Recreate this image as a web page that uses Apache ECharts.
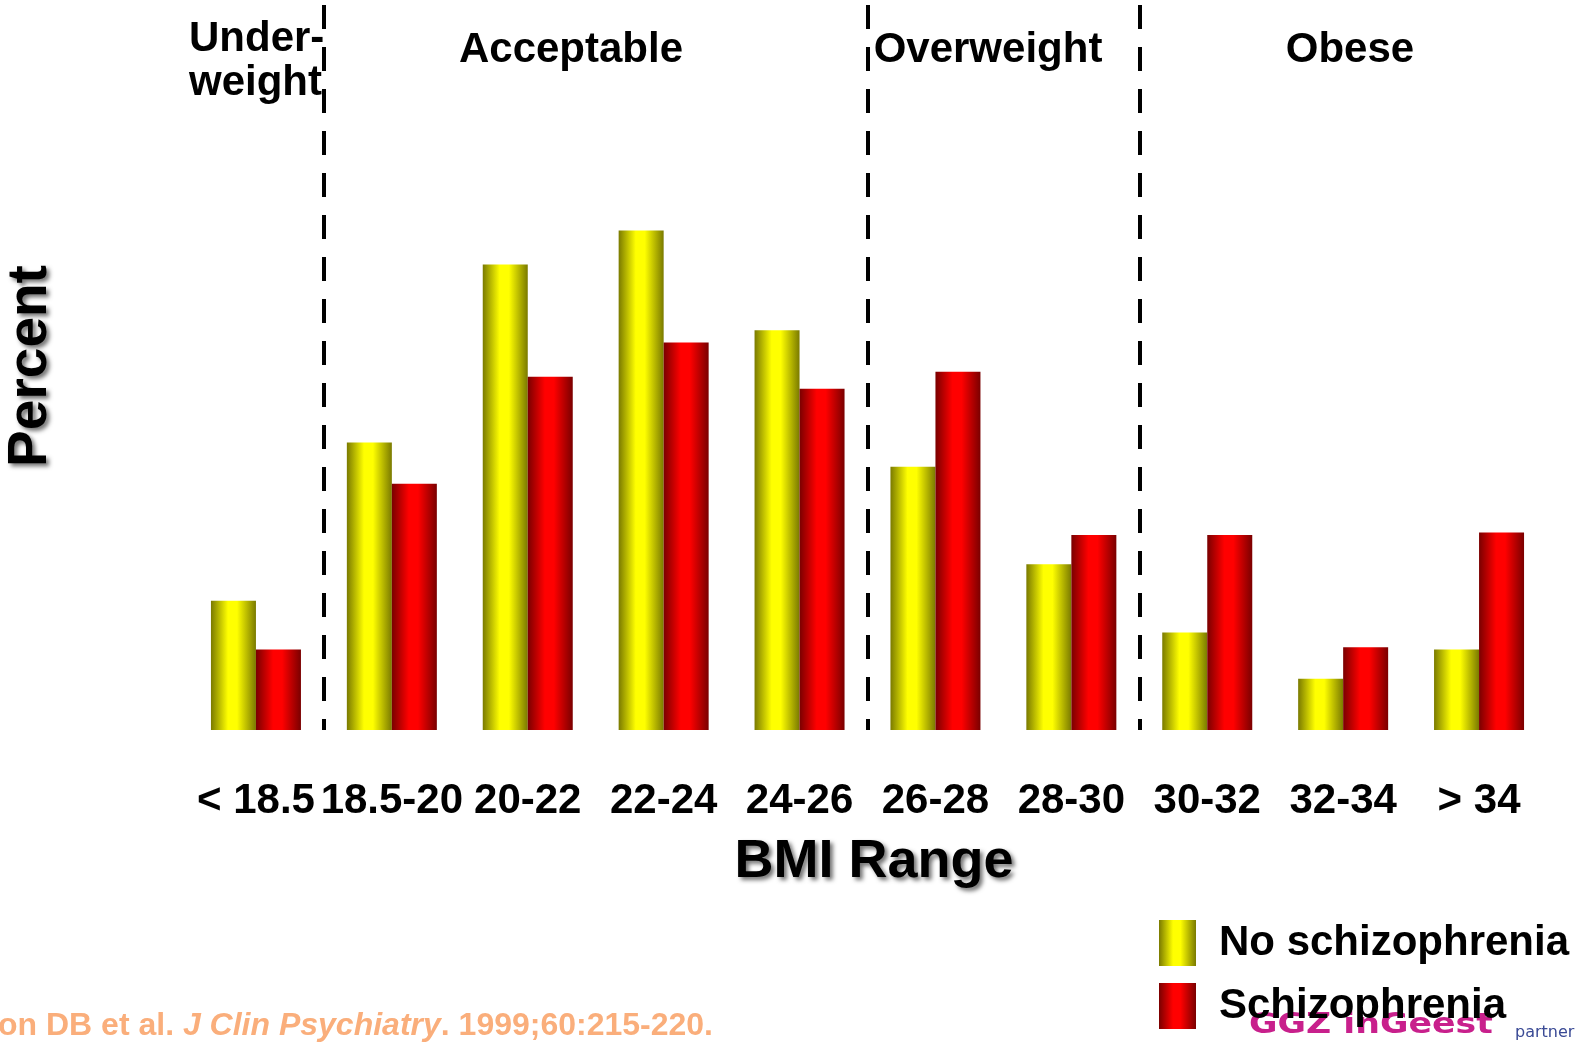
<!DOCTYPE html>
<html>
<head>
<meta charset="utf-8">
<script src="https://cdn.jsdelivr.net/npm/echarts@6/dist/echarts.min.js"></script>
<style>
  html, body { margin: 0; padding: 0; background: #ffffff; }
  #chart { width: 1585px; height: 1044px; }
</style>
</head>
<body>
<div id="chart"></div>
<script>
// BMI ranges (x axis categories)
const bmiRanges = ['< 18.5', '18.5-20', '20-22', '22-24', '24-26', '26-28', '28-30', '30-32', '32-34', '> 34'];
// Percent of each group falling into each BMI range
const noSchizophrenia = [5.3, 11.8, 19.1, 20.5, 16.4, 10.8, 6.8, 4.0, 2.1, 3.3];
const schizophrenia   = [3.3, 10.1, 14.5, 15.9, 14.0, 14.7, 8.0, 8.0, 3.4, 8.1];
const seriesNames = ['No schizophrenia', 'Schizophrenia'];
// Weight classes shown above the plot, separated at these category boundaries
const classNames = ['Under-\nweight', 'Acceptable', 'Overweight', 'Obese'];
const classBoundaries = [1, 5, 7];

const FONT = '"Liberation Sans", Arial, Helvetica, sans-serif';

function cylinder(dark, light) {
  return new echarts.graphic.LinearGradient(0, 0, 1, 0, [
    { offset: 0, color: dark },
    { offset: 0.38, color: light },
    { offset: 0.58, color: light },
    { offset: 1, color: dark }
  ]);
}

const chart = echarts.init(document.getElementById('chart'), null, { renderer: 'canvas' });

const titleShadow = {
  textShadowColor: 'rgba(0,0,0,0.55)',
  textShadowBlur: 4,
  textShadowOffsetX: 3,
  textShadowOffsetY: 3
};

chart.setOption({
  backgroundColor: '#ffffff',
  animation: false,
  grid: { left: 188, right: 38, top: 5, bottom: 314 },
  xAxis: {
    type: 'category',
    data: bmiRanges,
    boundaryGap: true,
    axisLine: { show: false },
    axisTick: { show: false },
    axisLabel: {
      interval: 0,
      margin: 50,
      fontSize: 42,
      fontWeight: 'bold',
      fontFamily: FONT,
      color: '#000000'
    },
    splitLine: {
      show: true,
      showMaxLine: false,
      interval: function (index) { return classBoundaries.indexOf(index) >= 0; },
      lineStyle: { color: '#000000', width: 4, type: [24, 18] }
    }
  },
  yAxis: {
    type: 'value',
    min: 0,
    max: 29.75,
    show: false
  },
  legend: {
    orient: 'vertical',
    left: 1154,
    top: 915,
    itemWidth: 37,
    itemHeight: 46,
    itemGap: 17,
    icon: 'rect',
    z: 10,
    data: seriesNames,
    selectedMode: false,
    textStyle: {
      fontSize: 42,
      fontWeight: 'bold',
      fontFamily: FONT,
      color: '#000000',
      padding: [0, 0, 0, 18]
    }
  },
  series: [
    {
      name: seriesNames[0],
      type: 'bar',
      data: noSchizophrenia,
      barWidth: 45,
      barGap: '0%',
      itemStyle: { color: cylinder('#7a7a00', '#ffff00') }
    },
    {
      name: seriesNames[1],
      type: 'bar',
      data: schizophrenia,
      barWidth: 45,
      barGap: '0%',
      itemStyle: { color: cylinder('#7a0000', '#ff0000') }
    }
  ],
  graphic: [
    // weight class headings
    {
      type: 'text', left: 189, top: 17, z: 5,
      style: { text: classNames[0], font: 'bold 42px ' + FONT, fill: '#000', lineHeight: 44 }
    },
    {
      type: 'text', x: 571, y: 50, z: 5,
      style: { text: classNames[1], font: 'bold 42px ' + FONT, fill: '#000', align: 'center', verticalAlign: 'middle' }
    },
    {
      type: 'text', x: 988, y: 50, z: 5,
      style: { text: classNames[2], font: 'bold 42px ' + FONT, fill: '#000', align: 'center', verticalAlign: 'middle' }
    },
    {
      type: 'text', x: 1350, y: 50, z: 5,
      style: { text: classNames[3], font: 'bold 42px ' + FONT, fill: '#000', align: 'center', verticalAlign: 'middle' }
    },
    // axis titles
    {
      type: 'text', x: 874, y: 862, z: 5,
      style: Object.assign({ text: 'BMI Range', font: 'bold 54px ' + FONT, fill: '#000', align: 'center', verticalAlign: 'middle' }, titleShadow)
    },
    {
      type: 'text', x: 31, y: 366, rotation: Math.PI / 2, z: 5,
      style: Object.assign({ text: 'Percent', font: 'bold 55px ' + FONT, fill: '#000', align: 'center', verticalAlign: 'middle' }, titleShadow)
    },
    // source
    {
      type: 'text', x: 713, y: 1026, z: 5,
      style: {
        text: '{n|Allison DB et al. }{i|J Clin Psychiatry}{n|. 1999;60:215-220.}',
        align: 'right', verticalAlign: 'middle',
        rich: {
          n: { font: 'bold 32px ' + FONT, fill: '#faae7b' },
          i: { font: 'italic bold 32px ' + FONT, fill: '#faae7b' }
        }
      }
    },
    // footer logo
    {
      type: 'text', x: 1249, y: 1026, scaleX: 1.24, z: 1,
      style: { text: 'GGZ inGeest', font: 'bold 28px "DejaVu Sans", sans-serif', fill: '#c8208c', verticalAlign: 'middle' }
    },
    {
      type: 'text', x: 1515, y: 1033, z: 1,
      style: { text: 'partner', font: '16px "DejaVu Sans", sans-serif', fill: '#3a4a95', verticalAlign: 'middle' }
    }
  ]
});
</script>
</body>
</html>
